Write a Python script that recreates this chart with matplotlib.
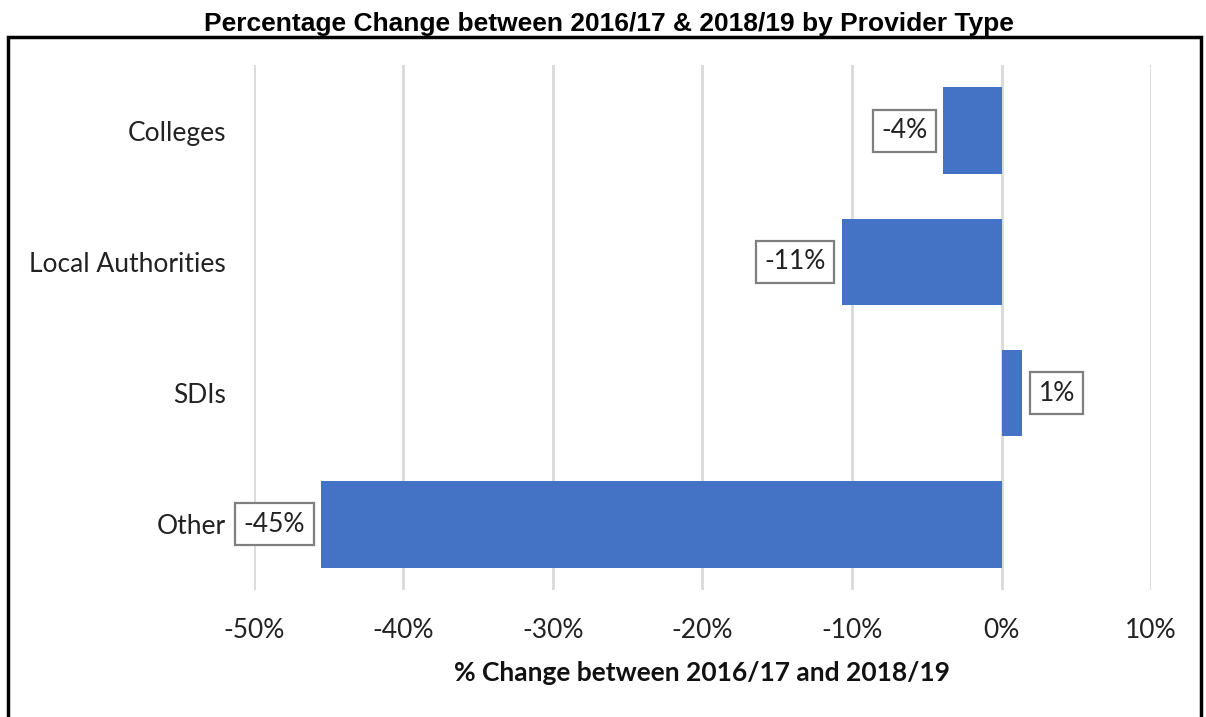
import matplotlib
matplotlib.use("Agg")
from matplotlib import pyplot as plt
from matplotlib.patches import Rectangle

# data
providers = ["Colleges", "Local Authorities", "SDIs", "Other"]
pct_change = [-3.9, -10.7, 1.4, -45.5]
bar_labels = ["-4%", "-11%", "1%", "-45%"]
x_ticks = [-50, -40, -30, -20, -10, 0, 10]

plt.rcParams["font.family"] = ["Lato", "DejaVu Sans"]

fig = plt.figure(figsize=(12.06, 7.17), dpi=100)
ax = fig.add_axes([0.2106, 0.1771, 0.7438, 0.7322])

ypos = list(range(len(providers)))
ax.barh(ypos, pct_change, height=0.66, color="#4472C4", zorder=3)

# data labels in little grey boxes
for y, val, lab in zip(ypos, pct_change, bar_labels):
    off = -11.5 if val < 0 else 11.5
    ha = "right" if val < 0 else "left"
    ax.annotate(lab, xy=(val, y), xytext=(off, 0), textcoords="offset points",
                ha=ha, va="center", fontsize=19, color="#222222",
                bbox=dict(boxstyle="square,pad=0.32", fc="white", ec="#7f7f7f", lw=1.6),
                zorder=5)

ax.set_xlim(-50, 10)
ax.set_ylim(len(providers) - 0.5, -0.5)
ax.set_xticks(x_ticks)
ax.set_xticklabels([f"{t}%" for t in x_ticks])
ax.set_yticks(ypos)
ax.set_yticklabels(providers)
ax.tick_params(axis="both", length=0, labelsize=19, colors="#222222")
ax.tick_params(axis="x", pad=20)
ax.tick_params(axis="y", pad=20)
ax.grid(axis="x", color="#d9d9d9", lw=2, zorder=0)
for s in ax.spines.values():
    s.set_visible(False)

ax.set_xlabel("% Change between 2016/17 and 2018/19", fontsize=19, fontweight="bold",
              labelpad=13, color="#111111")

fig.text(0.505, 0.966, "Percentage Change between 2016/17 & 2018/19 by Provider Type",
         ha="center", va="center", fontsize=19, fontweight="bold",
         family="Liberation Sans")

# black frame round the chart, open at the bottom
frame = Rectangle((8 / 1206, -0.1), (1201 - 8) / 1206, 1.1 - 37 / 717,
                  transform=fig.transFigure, fill=False, ec="black", lw=2.5,
                  clip_on=False)
fig.patches.append(frame)

fig.savefig("out.png", dpi=100)
